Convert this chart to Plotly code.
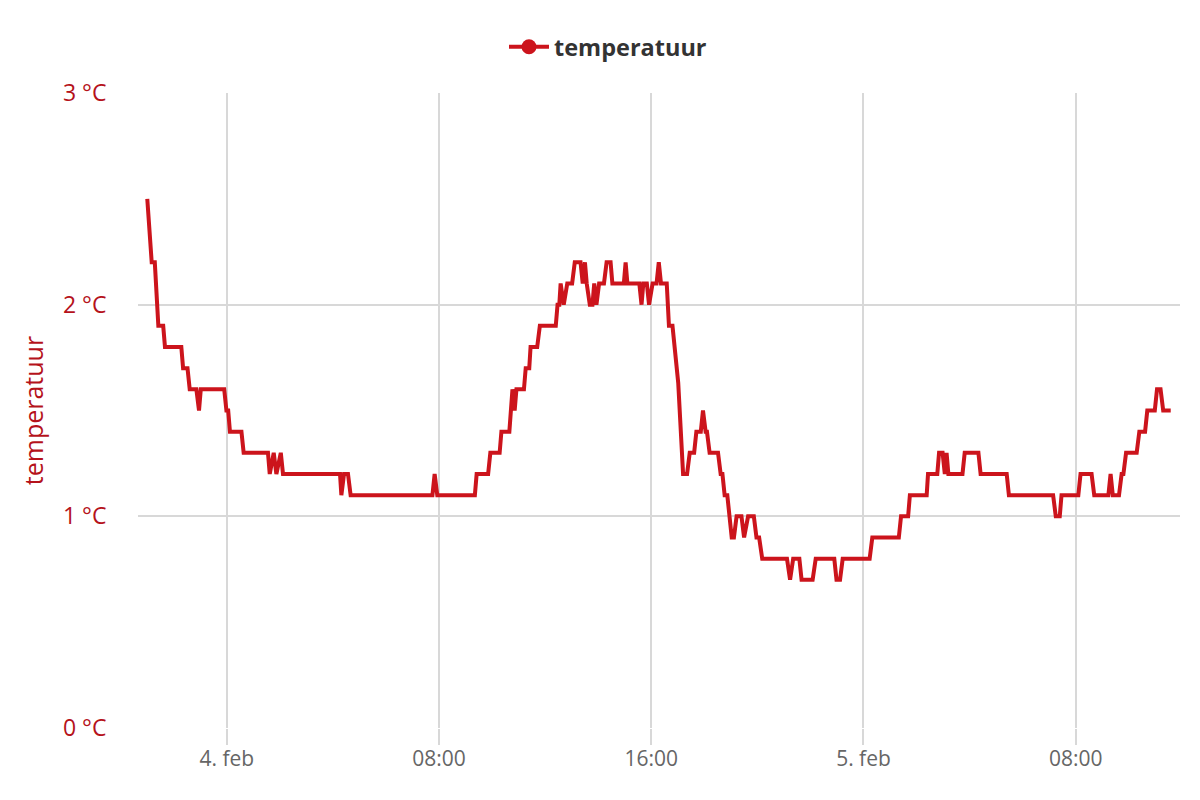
import plotly.graph_objects as go

# Sample times (breakpoints of the recorded series) and temperatures (°C)
times = [
    "2019-02-03 21:00", "2019-02-03 21:10", "2019-02-03 21:17", "2019-02-03 21:25",
    "2019-02-03 21:36", "2019-02-03 21:40", "2019-02-03 22:17", "2019-02-03 22:21",
    "2019-02-03 22:31", "2019-02-03 22:36", "2019-02-03 22:51", "2019-02-03 22:57",
    "2019-02-03 23:01", "2019-02-03 23:54", "2019-02-03 23:59", "2019-02-04 00:03",
    "2019-02-04 00:07", "2019-02-04 00:33", "2019-02-04 00:38", "2019-02-04 01:33",
    "2019-02-04 01:37", "2019-02-04 01:46", "2019-02-04 01:52", "2019-02-04 02:02",
    "2019-02-04 02:07", "2019-02-04 04:16", "2019-02-04 04:19", "2019-02-04 04:25",
    "2019-02-04 04:34", "2019-02-04 04:40", "2019-02-04 07:45", "2019-02-04 07:50",
    "2019-02-04 07:56", "2019-02-04 09:21", "2019-02-04 09:25", "2019-02-04 09:51",
    "2019-02-04 09:56", "2019-02-04 10:17", "2019-02-04 10:21", "2019-02-04 10:39",
    "2019-02-04 10:46", "2019-02-04 10:51", "2019-02-04 10:55", "2019-02-04 11:12",
    "2019-02-04 11:16", "2019-02-04 11:24", "2019-02-04 11:27", "2019-02-04 11:42",
    "2019-02-04 11:48", "2019-02-04 12:24", "2019-02-04 12:28", "2019-02-04 12:32",
    "2019-02-04 12:35", "2019-02-04 12:42", "2019-02-04 12:50", "2019-02-04 13:01",
    "2019-02-04 13:07", "2019-02-04 13:20", "2019-02-04 13:25", "2019-02-04 13:30",
    "2019-02-04 13:34", "2019-02-04 13:41", "2019-02-04 13:47", "2019-02-04 13:51",
    "2019-02-04 13:56", "2019-02-04 14:02", "2019-02-04 14:13", "2019-02-04 14:19",
    "2019-02-04 14:28", "2019-02-04 14:32", "2019-02-04 14:58", "2019-02-04 15:02",
    "2019-02-04 15:06", "2019-02-04 15:33", "2019-02-04 15:38", "2019-02-04 15:42",
    "2019-02-04 15:50", "2019-02-04 15:55", "2019-02-04 16:03", "2019-02-04 16:12",
    "2019-02-04 16:17", "2019-02-04 16:22", "2019-02-04 16:35", "2019-02-04 16:40",
    "2019-02-04 16:48", "2019-02-04 17:01", "2019-02-04 17:12", "2019-02-04 17:21",
    "2019-02-04 17:27", "2019-02-04 17:37", "2019-02-04 17:42", "2019-02-04 17:52",
    "2019-02-04 17:57", "2019-02-04 18:03", "2019-02-04 18:06", "2019-02-04 18:12",
    "2019-02-04 18:31", "2019-02-04 18:37", "2019-02-04 18:41", "2019-02-04 18:46",
    "2019-02-04 18:52", "2019-02-04 19:02", "2019-02-04 19:07", "2019-02-04 19:13",
    "2019-02-04 19:24", "2019-02-04 19:30", "2019-02-04 19:39", "2019-02-04 19:52",
    "2019-02-04 19:58", "2019-02-04 20:04", "2019-02-04 20:11", "2019-02-04 21:07",
    "2019-02-04 21:14", "2019-02-04 21:21", "2019-02-04 21:35", "2019-02-04 21:40",
    "2019-02-04 22:05", "2019-02-04 22:12", "2019-02-04 22:54", "2019-02-04 22:59",
    "2019-02-04 23:07", "2019-02-04 23:13", "2019-02-05 00:14", "2019-02-05 00:20",
    "2019-02-05 01:20", "2019-02-05 01:25", "2019-02-05 01:41", "2019-02-05 01:45",
    "2019-02-05 02:23", "2019-02-05 02:26", "2019-02-05 02:47", "2019-02-05 02:51",
    "2019-02-05 02:59", "2019-02-05 03:04", "2019-02-05 03:08", "2019-02-05 03:12",
    "2019-02-05 03:44", "2019-02-05 03:49", "2019-02-05 04:20", "2019-02-05 04:25",
    "2019-02-05 05:24", "2019-02-05 05:29", "2019-02-05 07:09", "2019-02-05 07:15",
    "2019-02-05 07:24", "2019-02-05 07:28", "2019-02-05 08:06", "2019-02-05 08:11",
    "2019-02-05 08:36", "2019-02-05 08:42", "2019-02-05 09:14", "2019-02-05 09:19",
    "2019-02-05 09:24", "2019-02-05 09:38", "2019-02-05 09:44", "2019-02-05 09:48",
    "2019-02-05 09:54", "2019-02-05 10:18", "2019-02-05 10:24", "2019-02-05 10:37",
    "2019-02-05 10:42", "2019-02-05 10:59", "2019-02-05 11:04", "2019-02-05 11:12",
    "2019-02-05 11:18", "2019-02-05 11:35",
]
temps = [
    2.5, 2.2, 2.2, 1.9,
    1.9, 1.8, 1.8, 1.7,
    1.7, 1.6, 1.6, 1.5,
    1.6, 1.6, 1.5, 1.5,
    1.4, 1.4, 1.3, 1.3,
    1.2, 1.3, 1.2, 1.3,
    1.2, 1.2, 1.1, 1.2,
    1.2, 1.1, 1.1, 1.2,
    1.1, 1.1, 1.2, 1.2,
    1.3, 1.3, 1.4, 1.4,
    1.6, 1.5, 1.6, 1.6,
    1.7, 1.7, 1.8, 1.8,
    1.9, 1.9, 2.0, 2.0,
    2.1, 2.0, 2.1, 2.1,
    2.2, 2.2, 2.1, 2.2,
    2.1, 2.0, 2.0, 2.1,
    2.0, 2.1, 2.1, 2.2,
    2.2, 2.1, 2.1, 2.2,
    2.1, 2.1, 2.0, 2.1,
    2.1, 2.0, 2.1, 2.1,
    2.2, 2.1, 2.1, 1.9,
    1.9, 1.63, 1.2, 1.2,
    1.3, 1.3, 1.4, 1.4,
    1.5, 1.4, 1.4, 1.3,
    1.3, 1.2, 1.2, 1.1,
    1.1, 0.9, 0.9, 1.0,
    1.0, 0.9, 1.0, 1.0,
    0.9, 0.9, 0.8, 0.8,
    0.7, 0.8, 0.8, 0.7,
    0.7, 0.8, 0.8, 0.7,
    0.7, 0.8, 0.8, 0.9,
    0.9, 1.0, 1.0, 1.1,
    1.1, 1.2, 1.2, 1.3,
    1.3, 1.2, 1.3, 1.2,
    1.2, 1.3, 1.3, 1.2,
    1.2, 1.1, 1.1, 1.0,
    1.0, 1.1, 1.1, 1.2,
    1.2, 1.1, 1.1, 1.2,
    1.1, 1.1, 1.2, 1.2,
    1.3, 1.3, 1.4, 1.4,
    1.5, 1.5, 1.6, 1.6,
    1.5, 1.5,
]

x_tick_vals = ["2019-02-04 00:00", "2019-02-04 08:00", "2019-02-04 16:00",
               "2019-02-05 00:00", "2019-02-05 08:00"]
x_tick_text = ["4. feb", "08:00", "16:00", "5. feb", "08:00"]
y_tick_vals = [0, 1, 2, 3]
y_tick_text = ["0 °C", "1 °C", "2 °C", "3 °C"]
x_range = ["2019-02-03 20:39", "2019-02-05 11:56"]

RED = "#cc141c"
LABEL_RED = "#b5121b"
GRID = "#d8d8d8"

fig = go.Figure()
fig.add_trace(go.Scatter(
    x=times, y=temps, mode="lines", name="temperatuur",
    line=dict(color=RED, width=4), showlegend=False,
))
# legend entry with marker
fig.add_trace(go.Scatter(
    x=[None], y=[None], mode="lines+markers", name="temperatuur",
    line=dict(color=RED, width=4), marker=dict(color=RED, size=15),
))

fig.update_layout(
    width=1200, height=800,
    paper_bgcolor="white", plot_bgcolor="white",
    margin=dict(l=130, r=28, t=85, b=80, autoexpand=False),
    font=dict(family="Open Sans, sans-serif"),
    legend=dict(orientation="h", xref="container", yref="container",
                x=0.5, xanchor="center", y=1 - 39 / 800, yanchor="middle",
                font=dict(size=23.5, color="#333333", family="Open Sans, sans-serif", weight="bold"),
                itemwidth=40, bgcolor="rgba(0,0,0,0)"),
    xaxis=dict(
        type="date", range=x_range,
        tickvals=x_tick_vals, ticktext=x_tick_text,
        showgrid=True, gridcolor=GRID, gridwidth=2,
        ticks="outside", ticklen=16, tickcolor=GRID, tickwidth=2,
        ticklabelstandoff=-4,
        tickfont=dict(size=21, color="#666666"),
        showline=False, zeroline=False, automargin=False,
    ),
    yaxis=dict(
        range=[0, 3], tickvals=y_tick_vals, ticktext=y_tick_text,
        showgrid=True, gridcolor=GRID, gridwidth=2,
        tickfont=dict(size=23, color=LABEL_RED),
        ticks="outside", ticklen=26, tickcolor="rgba(0,0,0,0)",
        title=dict(text="temperatuur", font=dict(size=25, color=LABEL_RED), standoff=12),
        zeroline=False, showline=False, automargin=False,
    ),
)

fig.write_html("out.html")
